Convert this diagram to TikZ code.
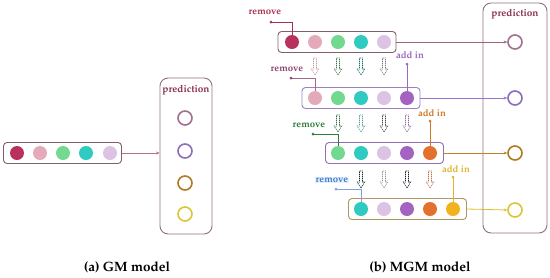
\documentclass[tikz,border=0pt]{standalone}
\usepackage[T1]{fontenc}
\renewcommand\rmdefault{ppl}
\usetikzlibrary{arrows.meta}
\definecolor{cA}{HTML}{B8325E}
\definecolor{cB}{HTML}{E4AABA}
\definecolor{cC}{HTML}{74D990}
\definecolor{cD}{HTML}{2FCBC0}
\definecolor{cE}{HTML}{DCC3E3}
\definecolor{cF}{HTML}{A463C0}
\definecolor{cG}{HTML}{E4702E}
\definecolor{cH}{HTML}{F0B31E}
\definecolor{pA}{HTML}{A0708E}
\definecolor{pB}{HTML}{8C6CBA}
\definecolor{pC}{HTML}{B07A22}
\definecolor{pD}{HTML}{D8C634}
\definecolor{boxA}{HTML}{806070}
\definecolor{boxB}{HTML}{9A82C2}
\definecolor{boxC}{HTML}{9070B0}
\definecolor{boxD}{HTML}{B09462}
\definecolor{predbox}{HTML}{8E7082}
\definecolor{lA}{HTML}{A0607E}
\definecolor{lB}{HTML}{9575C5}
\definecolor{lC}{HTML}{C08030}
\definecolor{lD}{HTML}{D8C030}
\definecolor{tA}{HTML}{A8304E}
\definecolor{tB}{HTML}{904070}
\definecolor{tC}{HTML}{2E7D3A}
\definecolor{tD}{HTML}{4A78C8}
\definecolor{aB}{HTML}{9A6AC0}
\definecolor{aC}{HTML}{D07A28}
\definecolor{aD}{HTML}{E0B530}
\definecolor{predtxt}{HTML}{8A3050}
\tikzset{
  dotc/.style={circle, inner sep=0pt, minimum size=14pt, draw=none},
  seqbox/.style={draw, rounded corners=3.5pt, line width=0.9pt, minimum width=118pt, minimum height=21pt, inner sep=0pt},
  predbx/.style={draw=predbox, rounded corners=8pt, line width=0.9pt, inner sep=0pt},
  predc/.style={circle, draw, line width=1.6pt, minimum size=14pt, inner sep=0pt},
  predlabel/.style={font=\bfseries\fontsize{10}{12}\selectfont, text=predtxt},
  lbl/.style={font=\bfseries\fontsize{9.6}{11}\selectfont, inner sep=1pt},
  conn/.style={line width=0.7pt},
  endpt/.style={circle, fill, inner sep=0pt, minimum size=3pt},
  outarr/.style={line width=0.8pt, -{Stealth[length=3.5pt,width=3pt]}},
  hollowarr/.style={line width=0.55pt, dash pattern=on 1.3pt off 0.7pt},
  caption/.style={font=\bfseries\fontsize{13.5}{15}\selectfont}
}
\newcommand\harr[3]{\draw[hollowarr,#3] (#1-1.5,#2) -- (#1+1.5,#2) -- (#1+1.5,#2+11) -- (#1+3.8,#2+11) -- (#1,#2+17) -- (#1-3.8,#2+11) -- (#1-1.5,#2+11) -- cycle;}
\begin{document}
\begin{tikzpicture}[x=1pt,y=-1pt]
\useasboundingbox (0,0) rectangle (550,277);
% ---------------- (a) GM model ----------------
\node[seqbox, draw=boxA] (gbox) at (62.5,153) {};
\node[dotc, fill=cA] (g1) at (17,153) {};
\node[dotc, fill=cB] (g2) at (40,153) {};
\node[dotc, fill=cC] (g3) at (63,153) {};
\node[dotc, fill=cD] (g4) at (86,153) {};
\node[dotc, fill=cE] (g5) at (110,153) {};
\node[predbx, minimum width=52pt, minimum height=156pt] (gpred) at (186,156) {};
\node[predlabel] (gpt) at (186,90) {prediction};
\node[predc, draw=pA] (gp1) at (185,118) {};
\node[predc, draw=pB] (gp2) at (185,151) {};
\node[predc, draw=pC] (gp3) at (185,183) {};
\node[predc, draw=pD] (gp4) at (185,214) {};
\draw[outarr, draw=lA!80!pink] (gbox.east) -- (gpred.west |- gbox.east);
\node[caption] (capa) at (127,267) {(a) GM model};
% ---------------- (b) MGM model ----------------
\node[seqbox, draw=boxA] (b1) at (337,42) {};
\node[dotc, fill=cA] (r1c1) at (292,42) {};
\node[dotc, fill=cB] (r1c2) at (315,42) {};
\node[dotc, fill=cC] (r1c3) at (338,42) {};
\node[dotc, fill=cD] (r1c4) at (361,42) {};
\node[dotc, fill=cE] (r1c5) at (384,42) {};
\node[seqbox, draw=boxB] (b2) at (361,98) {};
\node[dotc, fill=cB] (r2c1) at (315,98) {};
\node[dotc, fill=cC] (r2c2) at (338,98) {};
\node[dotc, fill=cD] (r2c3) at (361,98) {};
\node[dotc, fill=cE] (r2c4) at (384,98) {};
\node[dotc, fill=cF] (r2c5) at (407,98) {};
\node[seqbox, draw=boxC] (b3) at (384.5,153) {};
\node[dotc, fill=cC] (r3c1) at (338,153) {};
\node[dotc, fill=cD] (r3c2) at (361,153) {};
\node[dotc, fill=cE] (r3c3) at (384,153) {};
\node[dotc, fill=cF] (r3c4) at (407,153) {};
\node[dotc, fill=cG] (r3c5) at (430,153) {};
\node[seqbox, draw=boxD] (b4) at (407.5,209) {};
\node[dotc, fill=cD] (r4c1) at (361,209) {};
\node[dotc, fill=cE] (r4c2) at (384,209) {};
\node[dotc, fill=cF] (r4c3) at (407,209) {};
\node[dotc, fill=cG] (r4c4) at (430,209) {};
\node[dotc, fill=cH] (r4c5) at (453,209) {};
% hollow dashed arrows
\harr{315}{58}{draw=cB!90!black}
\harr{338}{58}{draw=cC!55!black}
\harr{361}{58}{draw=cD!55!black}
\harr{384}{58}{draw=cE!60!black}
\harr{338}{115}{draw=cC!50!black}
\harr{361}{115}{draw=cD!45!gray}
\harr{384}{115}{draw=cE!35!black}
\harr{407}{115}{draw=cF!60!gray}
\harr{361}{171}{draw=cD!25!black}
\harr{384}{171}{draw=cE!30!gray}
\harr{407}{171}{draw=cF!25!black}
\harr{430}{171}{draw=cG!60!gray}
% prediction box
\node[predbx, minimum width=64pt, minimum height=230pt] (mpred) at (515,118) {};
\node[predlabel] (mpt) at (515,14) {prediction};
\node[predc, draw=pA] (mp1) at (515,42) {};
\node[predc, draw=pB] (mp2) at (515,98) {};
\node[predc, draw=pC] (mp3) at (515,153) {};
\node[predc, draw=pD] (mp4) at (515,210) {};
\draw[outarr, draw=lA] (b1.east) -- (mp1.west);
\draw[outarr, draw=lB] (b2.east) -- (mp2.west);
\draw[outarr, draw=lC] (b3.east) -- (mp3.west);
\draw[outarr, draw=lD] (b4.east) -- (mp4.west);
% remove labels
\node[lbl, text=tA] (rm1) at (265,12) {remove};
\coordinate (rd1) at (271,22);
\draw[conn, draw=tA] (rd1) -| (r1c1.north);
\node[endpt, fill=tA] (rde1) at (rd1) {};
\node[lbl, text=tB] (rm2) at (287,69) {remove};
\coordinate (rd2) at (291,78);
\draw[conn, draw=tB!80] (rd2) -| (r2c1.north);
\node[endpt, fill=tB] (rde2) at (rd2) {};
\node[lbl, text=tC] (rm3) at (309,125) {remove};
\coordinate (rd3) at (313,134);
\draw[conn, draw=tC] (rd3) -| (r3c1.north);
\node[endpt, fill=tC] (rde3) at (rd3) {};
\node[lbl, text=tD, fill=cyan!12] (rm4) at (332,180) {remove};
\coordinate (rd4) at (336,189);
\draw[conn, draw=tD!70] (rd4) -| (r4c1.north);
\node[endpt, fill=tD!70] (rde4) at (rd4) {};
% add in labels
\node[lbl, text=aB] (ad2) at (410,55) {add in};
\coordinate (ap2) at (407,64);
\draw[conn, draw=aB] (ap2) -- (r2c5.north);
\node[endpt, fill=aB] (ape2) at (ap2) {};
\node[lbl, text=aC] (ad3) at (432,113) {add in};
\coordinate (ap3) at (430,121);
\draw[conn, draw=aC] (ap3) -- (r3c5.north);
\node[endpt, fill=aC] (ape3) at (ap3) {};
\node[lbl, text=aD] (ad4) at (456,169) {add in};
\coordinate (ap4) at (453,177);
\draw[conn, draw=aD] (ap4) -- (r4c5.north);
\node[endpt, fill=aD] (ape4) at (ap4) {};
\node[caption] (capb) at (420,267) {(b) MGM model};
\end{tikzpicture}
\end{document}
